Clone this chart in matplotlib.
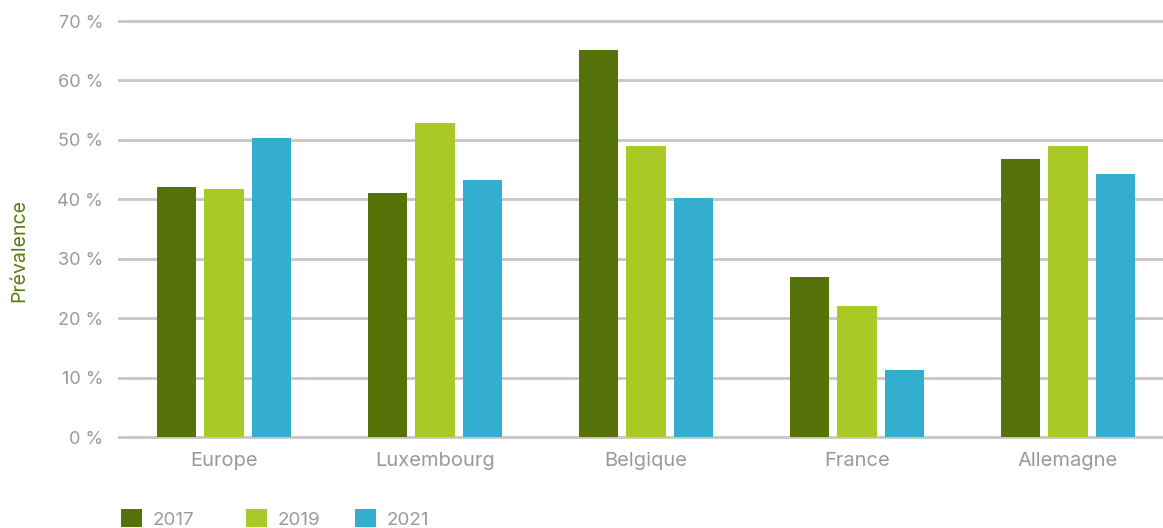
import matplotlib
matplotlib.use("Agg")
import matplotlib.pyplot as plt
import numpy as np
from matplotlib.patches import Patch

plt.rcParams["font.family"] = ["Inter", "DejaVu Sans"]

# ── données ──
pays = ["Europe", "Luxembourg", "Belgique", "France", "Allemagne"]
annees = ["2017", "2019", "2021"]
v2017 = [42.1, 41.1, 65.2, 26.9, 46.8]
v2019 = [41.7, 52.9, 49.0, 22.0, 49.0]
v2021 = [50.3, 43.3, 40.2, 11.3, 44.3]
yticks = [0, 10, 20, 30, 40, 50, 60, 70]

COULEURS = ["#557309", "#a8c926", "#33aecf"]
GRIS = "#9a9a9a"

fig = plt.figure(figsize=(11.63, 5.28), dpi=100)
# WHY: la zone de tracé déborde à droite de l'image (grille coupée au bord)
ax = fig.add_axes([118.5 / 1163, 1 - 437 / 528, 1055 / 1163, 416 / 528])

x = np.arange(len(pays))
largeur = 0.185
ecart = 0.224
for i, vals in enumerate([v2017, v2019, v2021]):
    ax.bar(x + (i - 1) * ecart, vals, width=largeur, color=COULEURS[i],
           edgecolor="none", zorder=3)

ax.set_xlim(-0.5, len(pays) - 0.5)
ax.set_ylim(0, 70)
ax.set_yticks(yticks)
ax.set_yticklabels([f"{t} %" for t in yticks], fontsize=13, color=GRIS)
ax.set_xticks(x)
ax.set_xticklabels(pays, fontsize=14.5, color=GRIS)
ax.tick_params(axis="both", length=0)
ax.tick_params(axis="y", pad=11)
ax.tick_params(axis="x", pad=11)

ax.yaxis.grid(True, color="#c9c5c5", linewidth=2)
for ligne in ax.get_ygridlines():
    ligne.set_clip_on(False)
ax.set_axisbelow(True)
for s in ax.spines.values():
    s.set_visible(False)

fig.text(19 / 1163, 1 - 250 / 528, "Prévalence", rotation=90, fontsize=14,
         color="#5a7a14", ha="center", va="center")

# légende : trois entrées placées séparément
positions = [121, 246, 355]
for annee, coul, px in zip(annees, COULEURS, positions):
    fig.legend(handles=[Patch(facecolor=coul, edgecolor="none")], labels=[annee],
               loc="center left", bbox_to_anchor=(px / 1163, 1 - 519 / 528),
               frameon=False, fontsize=13.5, handlelength=1.1, handleheight=1.1,
               handletextpad=0.6, borderpad=0, borderaxespad=0, labelcolor=GRIS)

fig.savefig("out.png", dpi=100, facecolor="white")
